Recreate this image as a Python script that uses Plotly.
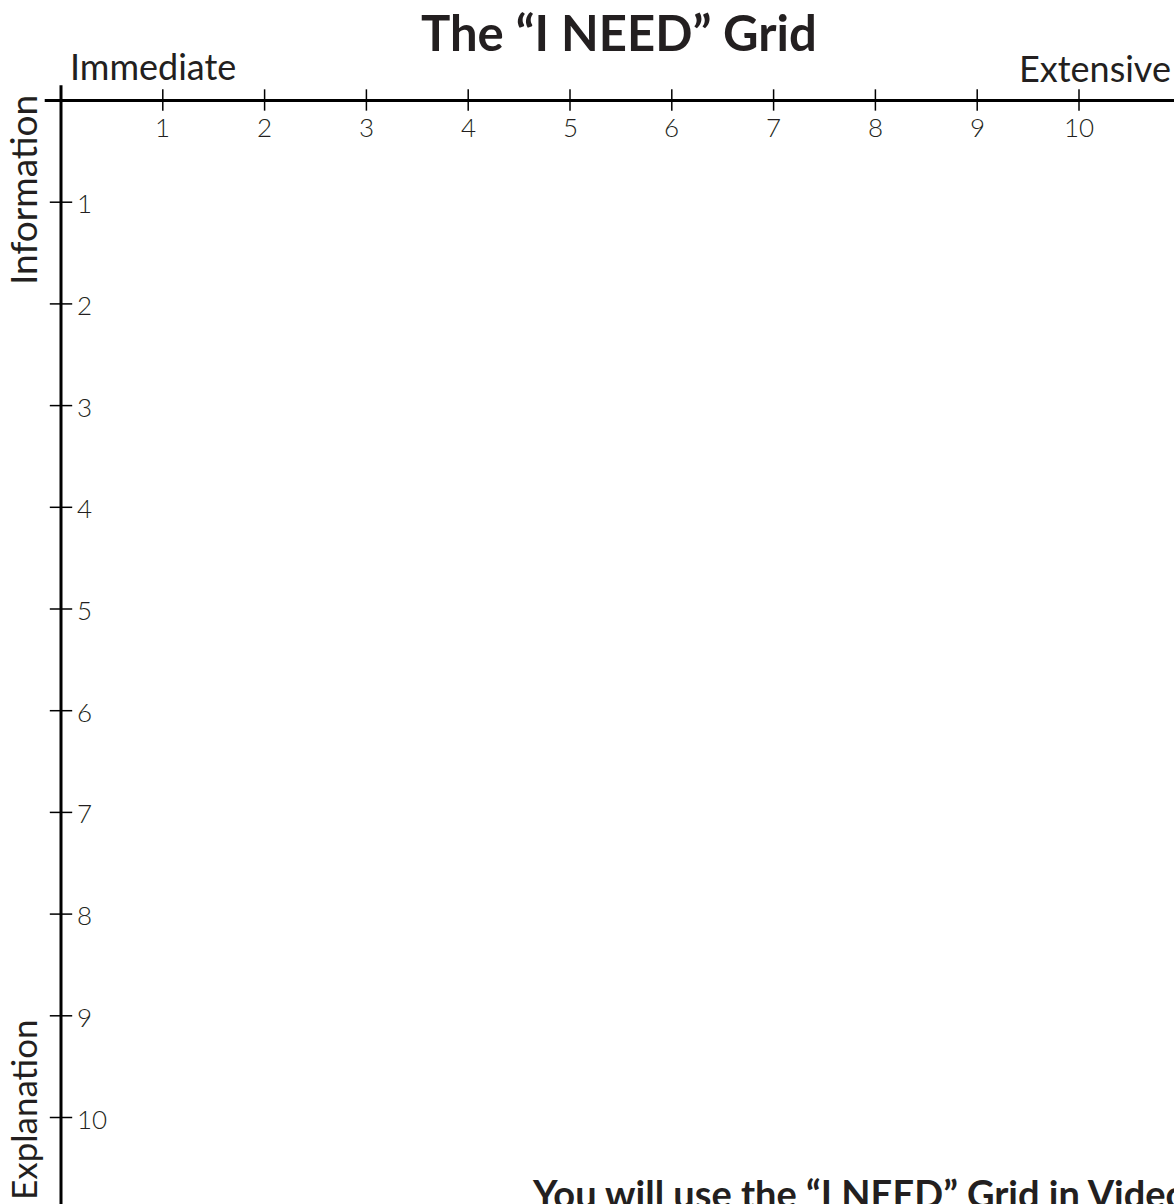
import plotly.graph_objects as go

# ---- data ----
x_ticks = [1, 2, 3, 4, 5, 6, 7, 8, 9, 10]
y_ticks = [1, 2, 3, 4, 5, 6, 7, 8, 9, 10]
x_tick_labels = [str(v) for v in x_ticks]
y_tick_labels = [str(v) for v in y_ticks]
title_text = "The “I NEED” Grid"
x_left_label = "Immediate"
x_right_label = "Extensive"
y_top_label = "Information"
y_bottom_label = "Explanation"
footer_text = "You will use the “I NEED” Grid in Video"

W, H = 1174, 1204
TXT = "#231f20"
FONT = "Lato"

fig = go.Figure()

# main axes lines
fig.add_trace(go.Scatter(x=[-0.16, 11.5], y=[0, 0], mode="lines",
                         line=dict(color="black", width=3), hoverinfo="skip", showlegend=False))
fig.add_trace(go.Scatter(x=[0, 0], y=[-0.15, 12], mode="lines",
                         line=dict(color="black", width=3), hoverinfo="skip", showlegend=False))

# tick marks
tx, ty = [], []
for v in x_ticks:
    tx += [v, v, None]
    ty += [-0.11, 0.1, None]
fig.add_trace(go.Scatter(x=tx, y=ty, mode="lines", line=dict(color="black", width=1.5),
                         hoverinfo="skip", showlegend=False))
sx, sy = [], []
for v in y_ticks:
    sx += [-0.11, 0.11, None]
    sy += [v, v, None]
fig.add_trace(go.Scatter(x=sx, y=sy, mode="lines", line=dict(color="black", width=1.5),
                         hoverinfo="skip", showlegend=False))

ann = []
for v, t in zip(x_ticks, x_tick_labels):
    ann.append(dict(x=v, y=0, xref="x", yref="y", text=t, showarrow=False,
                    xanchor="center", yanchor="middle", yshift=-26,
                    font=dict(family=FONT, size=26, color=TXT, weight=300)))
for v, t in zip(y_ticks, y_tick_labels):
    ann.append(dict(x=0, y=v, xref="x", yref="y", text=t, showarrow=False,
                    xanchor="left", yanchor="middle", xshift=14, yshift=-1,
                    font=dict(family=FONT, size=26, color=TXT, weight=300)))

def px(xp):
    return xp / W
def py(yp):
    return 1 - yp / H

ann.append(dict(x=px(619), y=py(32), xref="paper", yref="paper", text=f"<b>{title_text}</b>",
                showarrow=False, xanchor="center", yanchor="middle",
                font=dict(family=FONT, size=49, color=TXT)))
ann.append(dict(x=px(68), y=py(66), xref="paper", yref="paper", text=x_left_label,
                showarrow=False, xanchor="left", yanchor="middle",
                font=dict(family=FONT, size=36, color=TXT)))
ann.append(dict(x=px(1173), y=py(68), xref="paper", yref="paper", text=x_right_label,
                showarrow=False, xanchor="right", yanchor="middle",
                font=dict(family=FONT, size=36, color=TXT)))
ann.append(dict(x=px(23), y=py(190), xref="paper", yref="paper", text=y_top_label,
                showarrow=False, xanchor="center", yanchor="middle", textangle=-90,
                font=dict(family=FONT, size=37, color=TXT)))
ann.append(dict(x=px(23), y=py(1110), xref="paper", yref="paper", text=y_bottom_label,
                showarrow=False, xanchor="center", yanchor="middle", textangle=-90,
                font=dict(family=FONT, size=35, color=TXT)))
ann.append(dict(x=px(530), y=py(1193), xref="paper", yref="paper", text=f"<b>{footer_text}</b>",
                showarrow=False, xanchor="left", yanchor="middle",
                font=dict(family=FONT, size=38, color=TXT)))

x0 = 61.0
dx = 101.8
y0 = 100.5
dy = 101.7
fig.update_layout(
    width=W, height=H,
    margin=dict(l=0, r=0, t=0, b=0),
    paper_bgcolor="white", plot_bgcolor="white",
    xaxis=dict(range=[-x0 / dx, (W - x0) / dx], visible=False, fixedrange=True),
    yaxis=dict(range=[(H - y0) / dy, -y0 / dy], visible=False, fixedrange=True),
    annotations=ann,
    showlegend=False,
)

fig.write_html("out.html", config={"displayModeBar": False},
               post_script="document.body.style.margin='0';document.body.style.overflow='hidden';")
